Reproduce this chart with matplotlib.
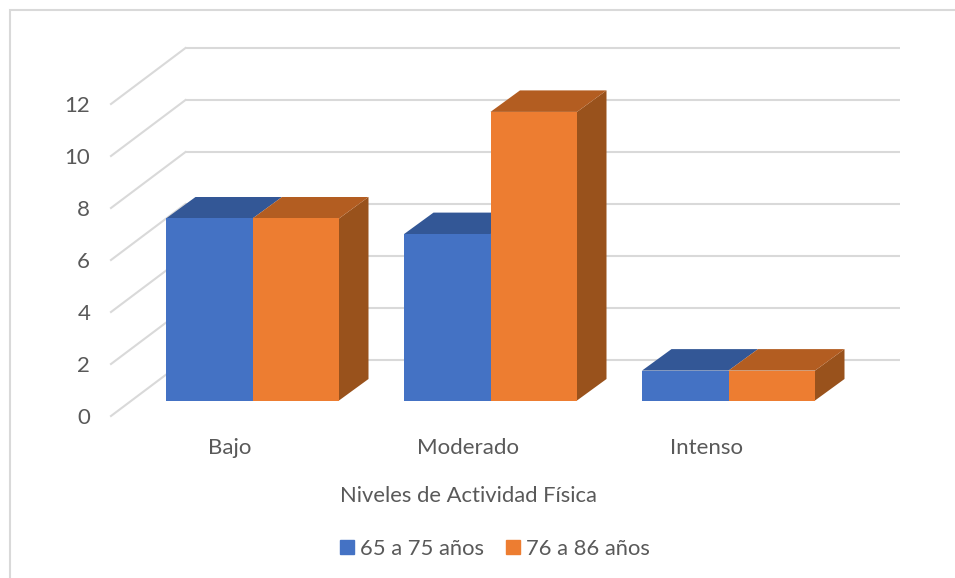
import numpy as np
import matplotlib
matplotlib.use('Agg')
import matplotlib.pyplot as plt
from matplotlib.patches import Patch, Polygon, Rectangle

categories = ['Bajo', 'Moderado', 'Intenso']
grupo_65 = [7.0, 6.4, 1.15]
grupo_76 = [7.0, 11.1, 1.15]
y_ticks = [0, 2, 4, 6, 8, 10, 12]

blue, blue_top = '#4472c4', '#335796'
orange, orange_top, orange_side = '#ed7d31', '#b35d21', '#99521c'
grid_col = '#d9d9d9'
text_col = '#595959'

plt.rcParams['font.family'] = ['Lato', 'DejaVu Sans']

W, H = 955, 578
fig = plt.figure(figsize=(W / 100, H / 100), dpi=100)
ax = fig.add_axes([111 / W, (H - 416) / H, 714 / W, 312 / H])
ax.set_xlim(-0.5, 2.5)
ax.set_ylim(0, 12)

# chart frame
fig.add_artist(Rectangle((9.5 / W, -0.1), 1.2, 1.1 - 10 / H, transform=fig.transFigure,
                         fill=False, ec=grid_col, lw=1.5))

# depth of the fake 3d box, in data units
wall_dx, wall_dy = 74.5 / 238, 56 / 26
plane_dx, plane_dy = 22.5 / 238, 15.5 / 26
depth_x, depth_y = 29.5 / 238, 21.5 / 26
width = 86.5 / 238

# back wall lines and the slanted ones on the side wall
for t in y_ticks:
    ax.plot([-0.5 + wall_dx, 2.5 + wall_dx], [t + wall_dy, t + wall_dy],
            color=grid_col, lw=1.5, clip_on=False, zorder=1, solid_capstyle='butt')
    ax.plot([-0.5, -0.5 + wall_dx], [t, t + wall_dy],
            color=grid_col, lw=1.5, clip_on=False, zorder=1)


def draw_box(x, v, front, top, side, z):
    left, right = x - width / 2, x + width / 2
    y0, y1 = plane_dy, plane_dy + v
    # blue boxes sit against the orange ones, so their side never shows
    if side is not None:
        ax.add_patch(Polygon([(right, y0), (right + depth_x, y0 + depth_y),
                              (right + depth_x, y1 + depth_y), (right, y1)],
                             fc=side, ec='none', clip_on=False, zorder=z))
    ax.add_patch(Polygon([(left, y1), (left + depth_x, y1 + depth_y),
                          (right + depth_x, y1 + depth_y), (right, y1)],
                         fc=top, ec='none', clip_on=False, zorder=z))
    ax.bar(x, v, width=width, bottom=y0, color=front, clip_on=False, zorder=z + 0.5)


x = np.arange(len(categories)) + plane_dx
for i in range(len(categories)):
    draw_box(x[i] - width / 2, grupo_65[i], blue, blue_top, None, 2)
    draw_box(x[i] + width / 2, grupo_76[i], orange, orange_top, orange_side, 3)

for s in ax.spines.values():
    s.set_visible(False)
ax.patch.set_visible(False)
ax.set_xticks(range(len(categories)), categories)
ax.set_yticks(y_ticks)
ax.tick_params(axis='both', length=0, labelsize=16, labelcolor=text_col)
ax.tick_params(axis='x', pad=15.5)
ax.tick_params(axis='y', pad=15)
ax.set_xlabel('Niveles de Actividad Física', fontsize=15.8, color=text_col, labelpad=20.5)

handles = [Patch(color=blue, label='65 a 75 años'), Patch(color=orange, label='76 a 86 años')]
fig.legend(handles=handles, loc='center', bbox_to_anchor=(495 / W, (H - 549) / H), ncol=2,
           frameon=False, fontsize=15.8, labelcolor=text_col, handlelength=0.62, handleheight=0.62,
           handletextpad=0.3, columnspacing=1.0, borderpad=0)

fig.savefig('out.png', dpi=100)
